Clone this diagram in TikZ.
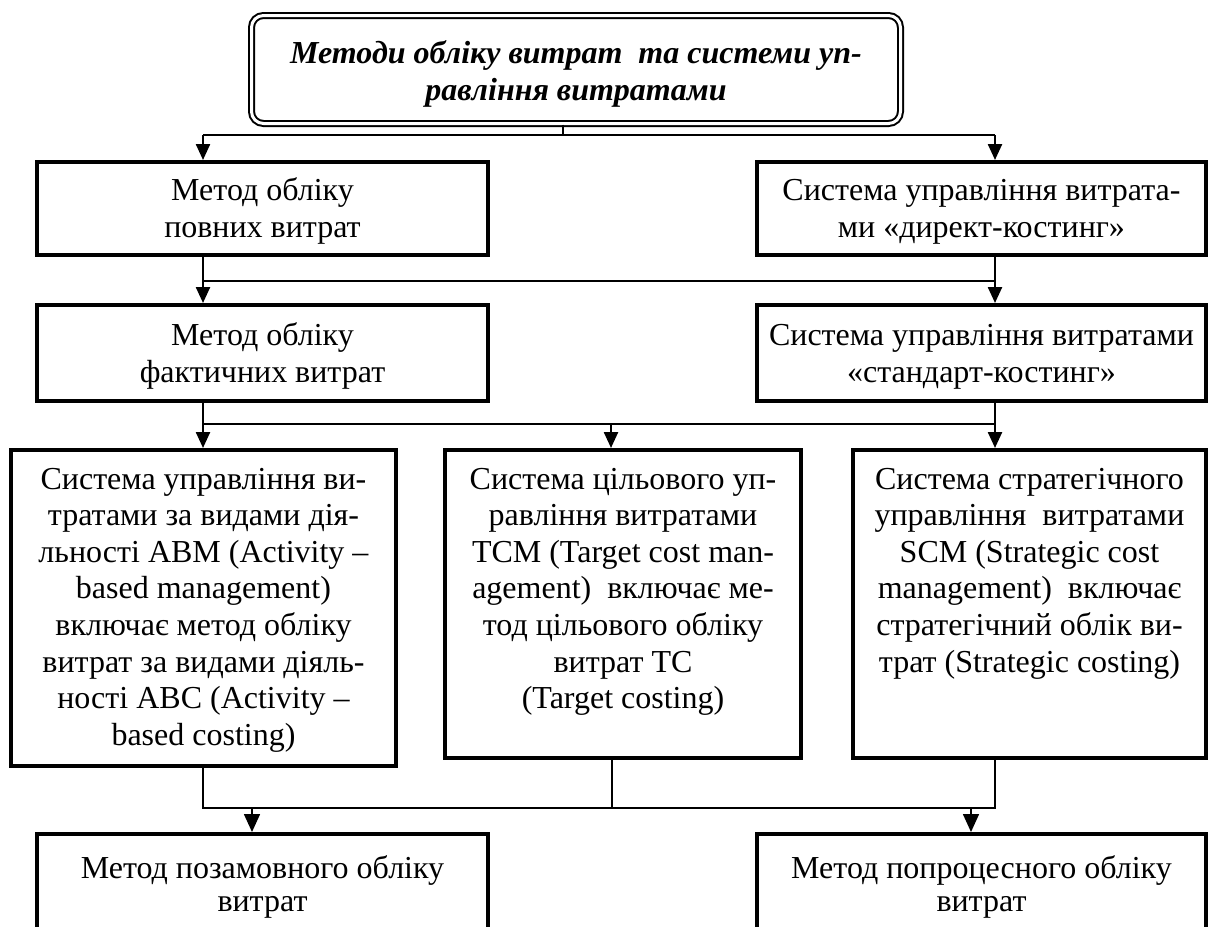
\documentclass[tikz,border=0pt]{standalone}
\usepackage{fontspec}
\setmainfont{Liberation Serif}
\usetikzlibrary{arrows.meta}
\begin{document}
\begin{tikzpicture}[x=0.5pt,y=-0.5pt,
  box/.style={draw, line width=2pt, inner sep=0pt},
  titlebox/.style={draw, double, line width=1pt, double distance=1.5pt, rounded corners=6pt, inner sep=0pt},
  conn/.style={line width=1.2pt},
  connthin/.style={line width=0.8pt},
  arr/.style={conn, -{Triangle[length=8pt,width=7pt]}},
  arrthin/.style={connthin, -{Triangle[length=9pt,width=8pt]}},
  txt/.style={anchor=base, inner sep=0pt, font=\fontsize{16}{18.5}\selectfont},
  txtc/.style={anchor=base, inner sep=0pt, font=\fontsize{16}{18.3}\selectfont},
  txtb/.style={anchor=base, inner sep=0pt, font=\fontsize{16}{16.5}\selectfont}
]
\useasboundingbox (0,0) rectangle (1211,927);
\clip (0,0) rectangle (1211,927);

% boxes
\node[titlebox, minimum width=324.5pt, minimum height=54pt] (top) at (576,69.5) {};
\node[box, minimum width=225.5pt, minimum height=46.5pt] (b1l) at (262.5,208.5) {};
\node[box, minimum width=224.5pt, minimum height=46.5pt] (b1r) at (981.5,208.5) {};
\node[box, minimum width=225.5pt, minimum height=48pt] (b2l) at (262.5,353) {};
\node[box, minimum width=224.5pt, minimum height=48pt] (b2r) at (981.5,353) {};
\node[box, minimum width=192.5pt, minimum height=158pt] (b3l) at (203.5,608) {};
\node[box, minimum width=178pt, minimum height=154pt] (b3m) at (623,604) {};
\node[box, minimum width=176.5pt, minimum height=154pt] (b3r) at (1029.5,604) {};
\node[box, minimum width=225.5pt, minimum height=78pt] (b4l) at (262.5,912) {};
\node[box, minimum width=224.5pt, minimum height=78pt] (b4r) at (981.5,912) {};

% texts
\node[txt, font=\fontsize{16}{18.5}\selectfont\bfseries\itshape] (ttop) at (576,63)
  {\parbox[t]{320pt}{\centering Методи обліку витрат\ \ та системи уп-\\равління витратами}};
\node[txt] (t1l) at (262.5,200) {\parbox[t]{260pt}{\centering Метод обліку\\[0.3pt]повних витрат}};
\node[txt] (t1r) at (981.5,200) {\parbox[t]{260pt}{\centering Система управління витрата-\\[0.3pt]ми «директ-костинг»}};
\node[txt] (t2l) at (262.5,345) {\parbox[t]{260pt}{\centering Метод обліку\\фактичних витрат}};
\node[txt] (t2r) at (981.5,345) {\parbox[t]{260pt}{\centering Система управління витратами\\«стандарт-костинг»}};
\node[txtc] (t3l) at (203.5,489) {\parbox[t]{240pt}{\centering Система управління ви-\\тратами за видами дія-\\льності ABM (Activity –\\based management)\\включає метод обліку\\витрат за видами діяль-\\ності ABC (Activity –\\based costing)}};
\node[txtc] (t3m) at (623,489) {\parbox[t]{240pt}{\centering Система цільового уп-\\равління витратами\\TCM (Target cost man-\\agement)\ \ включає ме-\\тод цільового обліку\\витрат TC\\(Target costing)}};
\node[txtc] (t3r) at (1029.5,489) {\parbox[t]{240pt}{\centering Система стратегічного\\управління\ \ витратами\\SCM (Strategic cost\\management)\ \ включає\\стратегічний облік ви-\\трат (Strategic costing)}};
\node[txtb] (t4l) at (262.5,878) {\parbox[t]{260pt}{\centering Метод позамовного обліку\\витрат}};
\node[txtb] (t4r) at (981.5,878) {\parbox[t]{260pt}{\centering Метод попроцесного обліку\\витрат}};

% junctions
\coordinate (h0c) at (563,135);
\coordinate (h0l) at (203,135);
\coordinate (h0r) at (995,135);
\coordinate (h1l) at (203,281);
\coordinate (h1r) at (995,281);
\coordinate (h2l) at (203,424);
\coordinate (h2m) at (611,424);
\coordinate (h2r) at (995,424);
\coordinate (h3l) at (203,808);
\coordinate (h3m) at (612,808);
\coordinate (h3r) at (995,808);
\coordinate (a4l) at (252,808);
\coordinate (a4r) at (971,808);

% level 0 -> 1
\draw[conn] (top.south -| h0c) -- (h0c);
\draw[conn] (h0l) -- (h0r);
\draw[arr] (h0l) -- (b1l.north -| h0l);
\draw[arr] (h0r) -- (b1r.north -| h0r);

% level 1 -> 2
\draw[conn] (h1l) -- (h1r);
\draw[arr] (b1l.south -| h1l) -- (b2l.north -| h1l);
\draw[arr] (b1r.south -| h1r) -- (b2r.north -| h1r);

% level 2 -> 3
\draw[conn] (h2l) -- (h2r);
\draw[arr] (b2l.south -| h2l) -- (b3l.north -| h2l);
\draw[arr] (h2m) -- (b3m.north -| h2m);
\draw[arr] (b2r.south -| h2r) -- (b3r.north -| h2r);

% level 3 -> 4
\draw[connthin] (b3l.south -| h3l) -- (h3l) -- (h3r) -- (b3r.south -| h3r);
\draw[connthin] (b3m.south -| h3m) -- (h3m);
\draw[arrthin] (a4l) -- (b4l.north -| a4l);
\draw[arrthin] (a4r) -- (b4r.north -| a4r);
\end{tikzpicture}
\end{document}
